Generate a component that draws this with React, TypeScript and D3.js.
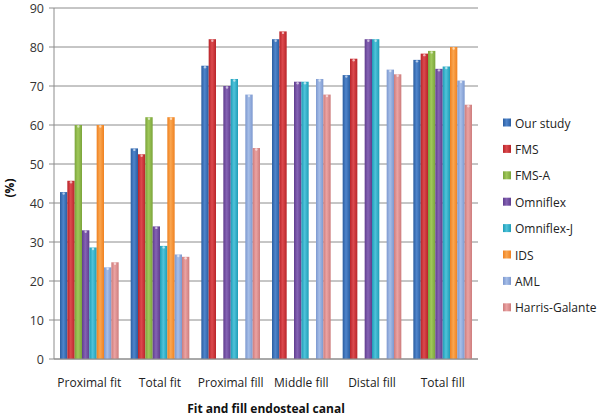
import React, { useEffect, useRef } from "react";
import * as d3 from "d3";

const categories = ["Proximal fit", "Total fit", "Proximal fill", "Middle fill", "Distal fill", "Total fill"];
const seriesNames = ["Our study", "FMS", "FMS-A", "Omniflex", "Omniflex-J", "IDS", "AML", "Harris-Galante"];
const ourStudy = [42.8, 54, 75.2, 82, 72.8, 76.7];
const fms = [45.7, 52.5, 82, 84, 77, 78.3];
const fmsA = [60, 62, null, null, null, 79];
const omniflex = [33, 34, 70, 71.1, 82, 74.4];
const omniflexJ = [28.6, 29, 71.8, 71.1, 82, 75];
const ids = [60, 62, null, null, null, 80];
const aml = [23.5, 26.8, 67.8, 71.8, 74.2, 71.4];
const harrisGalante = [24.8, 26.2, 54.1, 67.8, 73, 65.2];
const yTicks = [0, 10, 20, 30, 40, 50, 60, 70, 80, 90];
const colors = ["#2A5DA0", "#B82429", "#7AA43A", "#5F3D8E", "#1E9DB7", "#EF8120", "#7C98CF", "#CD7C7C"];
const lightColors = ["#4F85CC", "#DC4A4E", "#A0C85A", "#8563B4", "#50C3DA", "#FAA650", "#A6BEE8", "#EBA3A3"];

const allSeries = [ourStudy, fms, fmsA, omniflex, omniflexJ, ids, aml, harrisGalante];

const App = () => {
  const ref = useRef(null);

  useEffect(() => {
    const svg = d3.select(ref.current);
    svg.selectAll("*").remove();

    const left = 54;
    const right = 478;
    const top = 8;
    const bottom = 359;
    const font = "'Open Sans', Calibri, sans-serif";

    const x0 = d3.scaleBand().domain(categories).range([left, right]).paddingInner(0.17).paddingOuter(0.085);
    const x1 = d3.scaleBand().domain(seriesNames).range([0, x0.bandwidth()]).padding(0);
    const y = d3.scaleLinear().domain([0, 90]).range([bottom, top]);

    const defs = svg.append("defs");
    seriesNames.forEach((s, i) => {
      const grad = defs.append("linearGradient").attr("id", "g" + i).attr("x1", "0").attr("x2", "1").attr("y1", "0").attr("y2", "0");
      grad.append("stop").attr("offset", "0%").attr("stop-color", colors[i]);
      grad.append("stop").attr("offset", "45%").attr("stop-color", lightColors[i]);
      grad.append("stop").attr("offset", "100%").attr("stop-color", colors[i]);
    });

    // grid
    svg.append("g")
      .selectAll("line")
      .data(yTicks)
      .join("line")
      .attr("x1", left - 5)
      .attr("x2", right)
      .attr("y1", (d) => y(d))
      .attr("y2", (d) => y(d))
      .attr("stroke", "#8c8c8c")
      .attr("stroke-width", 1);

    svg.append("g")
      .selectAll("text")
      .data(yTicks)
      .join("text")
      .attr("x", 44)
      .attr("y", (d) => y(d) + 4.5)
      .attr("text-anchor", "end")
      .attr("font-family", font)
      .attr("font-size", 12.5)
      .attr("fill", "#333")
      .text((d) => d);

    svg.append("line")
      .attr("x1", left)
      .attr("x2", left)
      .attr("y1", top)
      .attr("y2", bottom)
      .attr("stroke", "#8c8c8c");

    // bars
    const groups = svg.append("g")
      .selectAll("g")
      .data(categories)
      .join("g")
      .attr("transform", (d) => `translate(${x0(d)},0)`);

    groups.selectAll("rect")
      .data((c, ci) => seriesNames.map((s, si) => ({ s, si, v: allSeries[si][ci] })).filter((d) => d.v != null))
      .join("rect")
      .attr("x", (d) => x1(d.s))
      .attr("width", x1.bandwidth())
      .attr("y", (d) => y(d.v))
      .attr("height", (d) => bottom - y(d.v))
      .attr("fill", (d) => `url(#g${d.si})`);

    groups.selectAll("circle")
      .data((c, ci) => seriesNames.map((s, si) => ({ s, si, v: allSeries[si][ci] })).filter((d) => d.v != null))
      .join("circle")
      .attr("cx", (d) => x1(d.s) + x1.bandwidth() / 2)
      .attr("cy", (d) => y(d.v) + 1.5)
      .attr("r", 1.2)
      .attr("fill", "#fff")
      .attr("opacity", 0.6);

    svg.append("line")
      .attr("x1", left)
      .attr("x2", right)
      .attr("y1", bottom)
      .attr("y2", bottom)
      .attr("stroke", "#8c8c8c");

    // category labels
    svg.append("g")
      .selectAll("text")
      .data(categories)
      .join("text")
      .attr("x", (d) => x0(d) + x0.bandwidth() / 2)
      .attr("y", 387)
      .attr("text-anchor", "middle")
      .attr("font-family", font)
      .attr("font-size", 12)
      .attr("fill", "#222")
      .text((d) => d);

    svg.append("text")
      .attr("x", (left + right) / 2)
      .attr("y", 413)
      .attr("text-anchor", "middle")
      .attr("font-family", font)
      .attr("font-size", 12)
      .attr("font-weight", "bold")
      .attr("fill", "#111")
      .text("Fit and fill endosteal canal");

    svg.append("text")
      .attr("transform", "translate(14,188) rotate(-90)")
      .attr("text-anchor", "middle")
      .attr("font-family", font)
      .attr("font-size", 12)
      .attr("font-weight", "bold")
      .attr("fill", "#111")
      .text("(%)");

    // legend
    const legend = svg.append("g")
      .selectAll("g")
      .data(seriesNames)
      .join("g")
      .attr("transform", (d, i) => `translate(503,${123 + i * 26.4})`);

    legend.append("rect")
      .attr("x", 0)
      .attr("y", -4.5)
      .attr("width", 8)
      .attr("height", 8)
      .attr("fill", (d, i) => `url(#g${i})`);

    legend.append("text")
      .attr("x", 12)
      .attr("y", 4.5)
      .attr("font-family", font)
      .attr("font-size", 12)
      .attr("fill", "#222")
      .text((d) => d);
  }, []);

  return (
    <svg
      ref={ref}
      width={600}
      height={420}
      style={{ position: "absolute", left: 0, top: 0, background: "#fff" }}
    ></svg>
  );
};

export default App;
